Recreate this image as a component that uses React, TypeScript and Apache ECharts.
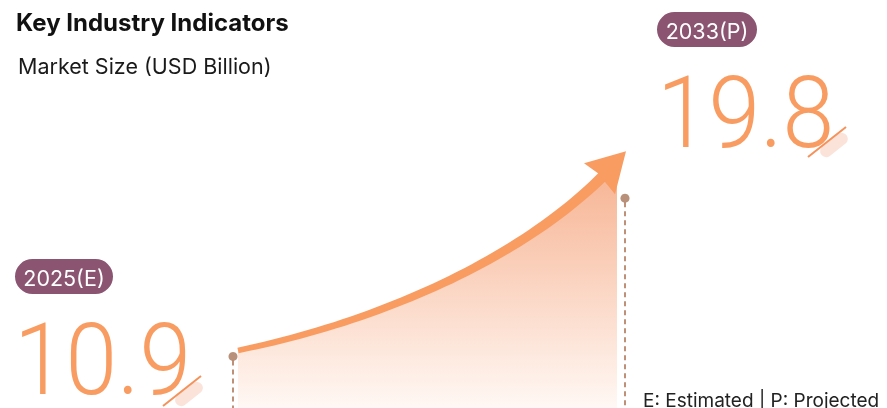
import React, { useEffect, useRef } from "react";
import * as echarts from "echarts";

const years = [2025, 2033];
const values = [10.9, 19.8];
const badgeLabels = ["2025(E)", "2033(P)"];
const titleText = "Key Industry Indicators";
const subtitleText = "Market Size (USD Billion)";
const noteText = "E: Estimated | P: Projected";

const ORANGE = "#F89C62";
const BADGE = "#8B5572";
const DOT = "#A8755A";
const DASH = "#BE9077";

function cubic(p0: number[], p1: number[], p2: number[], p3: number[], t: number) {
  const u = 1 - t;
  const a = u * u * u, b = 3 * u * u * t, c = 3 * u * t * t, d = t * t * t;
  return [a * p0[0] + b * p1[0] + c * p2[0] + d * p3[0], a * p0[1] + b * p1[1] + c * p2[1] + d * p3[1]];
}
function cubicD(p0: number[], p1: number[], p2: number[], p3: number[], t: number) {
  const u = 1 - t;
  return [
    3 * u * u * (p1[0] - p0[0]) + 6 * u * t * (p2[0] - p1[0]) + 3 * t * t * (p3[0] - p2[0]),
    3 * u * u * (p1[1] - p0[1]) + 6 * u * t * (p2[1] - p1[1]) + 3 * t * t * (p3[1] - p2[1]),
  ];
}

export default function App() {
  const ref = useRef<HTMLDivElement>(null);
  useEffect(() => {
    if (!ref.current) return;
    const chart = echarts.init(ref.current, null, { renderer: "svg" });

    const renderItem = (params: any, api: any) => {
      const a = api.coord([api.value(0), api.value(1)]);
      const b = api.coord([api.value(2), api.value(3)]);
      const bottom = 408;
      const S = [a[0] + 5, a[1] - 6];
      const E = [b[0] - 21, b[1] - 23];
      const C1 = [S[0] + 142, S[1] - 29];
      const C2 = [E[0] - 84, E[1] + 84];
      const N = 48;
      const center: number[][] = [];
      const left: number[][] = [];
      const right: number[][] = [];
      for (let i = 0; i <= N; i++) {
        const t = i / N;
        const p = cubic(S, C1, C2, E, t);
        const d = cubicD(S, C1, C2, E, t);
        const len = Math.hypot(d[0], d[1]) || 1;
        const nx = -d[1] / len, ny = d[0] / len;
        const w = 2.8 + 2.6 * t;
        center.push(p);
        left.push([p[0] + nx * w, p[1] + ny * w]);
        right.push([p[0] - nx * w, p[1] - ny * w]);
      }
      const body = left.concat(right.slice().reverse());
      const areaPts = center.concat([
        [b[0] - 8, E[1] + 6],
        [b[0] - 8, bottom],
        [S[0], bottom],
      ]);
      const head = [
        [b[0] + 1, b[1] - 47],
        [E[0] - 20, E[1] - 12],
        [E[0] - 6, E[1] - 2],
        [E[0] + 11, E[1] + 19],
      ];
      return {
        type: "group",
        children: [
          {
            type: "polygon",
            shape: { points: areaPts },
            style: {
              fill: new echarts.graphic.LinearGradient(0, 0, 0, 1, [
                { offset: 0, color: "#F7B595" },
                { offset: 1, color: "#FFF8F4" },
              ]),
            },
          },
          { type: "polygon", shape: { points: body }, style: { fill: ORANGE } },
          { type: "polygon", shape: { points: head }, style: { fill: ORANGE } },
          {
            type: "line",
            shape: { x1: a[0], y1: a[1] + 4, x2: a[0], y2: bottom },
            style: { stroke: DASH, lineWidth: 2, lineDash: [5, 4] },
          },
          {
            type: "line",
            shape: { x1: b[0], y1: b[1] + 4, x2: b[0], y2: bottom },
            style: { stroke: DASH, lineWidth: 2, lineDash: [5, 4] },
          },
        ],
      };
    };

    const slash = (cx: number, cy: number) => ({
      type: "group",
      children: [
        {
          type: "rect",
          x: cx + 7,
          y: cy + 3,
          rotation: (38 * Math.PI) / 180,
          shape: { x: -16, y: -6, width: 32, height: 12, r: 6 },
          style: { fill: "#FBE3DA" },
        },
        {
          type: "line",
          shape: { x1: cx - 19, y1: cy + 15, x2: cx + 19, y2: cy - 15 },
          style: { stroke: "#F4925A", lineWidth: 2 },
        },
      ],
    });

    const badge = (x: number, y: number, w: number, label: string) => ({
      type: "group",
      x,
      y,
      children: [
        { type: "rect", shape: { x: 0, y: 0, width: w, height: 35, r: 17.5 }, style: { fill: BADGE } },
        {
          type: "text",
          x: w / 2,
          y: 19,
          style: {
            text: label,
            font: "21.5px Inter",
            fill: "#FFFFFF",
            textAlign: "center",
            textVerticalAlign: "middle",
          },
        },
      ],
    });

    const bigNum = (x: number, y: number, v: number) => ({
      type: "text",
      x,
      y,
      scaleX: 0.93,
      style: {
        text: v.toFixed(1),
        font: "300 100px Roboto",
        fill: ORANGE,
        textAlign: "left",
        textVerticalAlign: "middle",
      },
    });

    chart.setOption({
      animation: false,
      grid: { left: 233, top: 159, width: 392, height: 253, containLabel: false },
      xAxis: { type: "value", min: 2025, max: 2033, show: false },
      yAxis: { type: "value", min: 8, max: 22, show: false },
      graphic: [
        {
          type: "text",
          x: 16,
          y: 22,
          style: { text: titleText, font: "bold 24px Inter", fill: "#111111", textVerticalAlign: "middle" },
        },
        {
          type: "text",
          x: 18,
          y: 66,
          style: { text: subtitleText, font: "21.5px Inter", fill: "#1a1a1a", textVerticalAlign: "middle" },
        },
        badge(15, 259, 98, badgeLabels[0]),
        badge(657, 12, 100, badgeLabels[1]),
        slash(182, 391),
        slash(827, 142),
        bigNum(14, 360, values[0]),
        bigNum(657, 113, values[1]),
        {
          type: "text",
          x: 643,
          y: 400,
          style: { text: noteText, font: "19px Inter", fill: "#222222", textVerticalAlign: "middle" },
        },
      ],
      series: [
        {
          type: "custom",
          renderItem,
          clip: false,
          data: [[years[0], values[0], years[1], values[1]]],
          z: 2,
        },
        {
          type: "scatter",
          data: years.map((y, i) => [y, values[i]]),
          symbolSize: 9,
          itemStyle: { color: DOT },
          z: 3,
        },
      ],
    });
    return () => chart.dispose();
  }, []);
  return <div ref={ref} style={{ position: "fixed", left: 0, top: 0, width: 887, height: 408 }} />;
}
